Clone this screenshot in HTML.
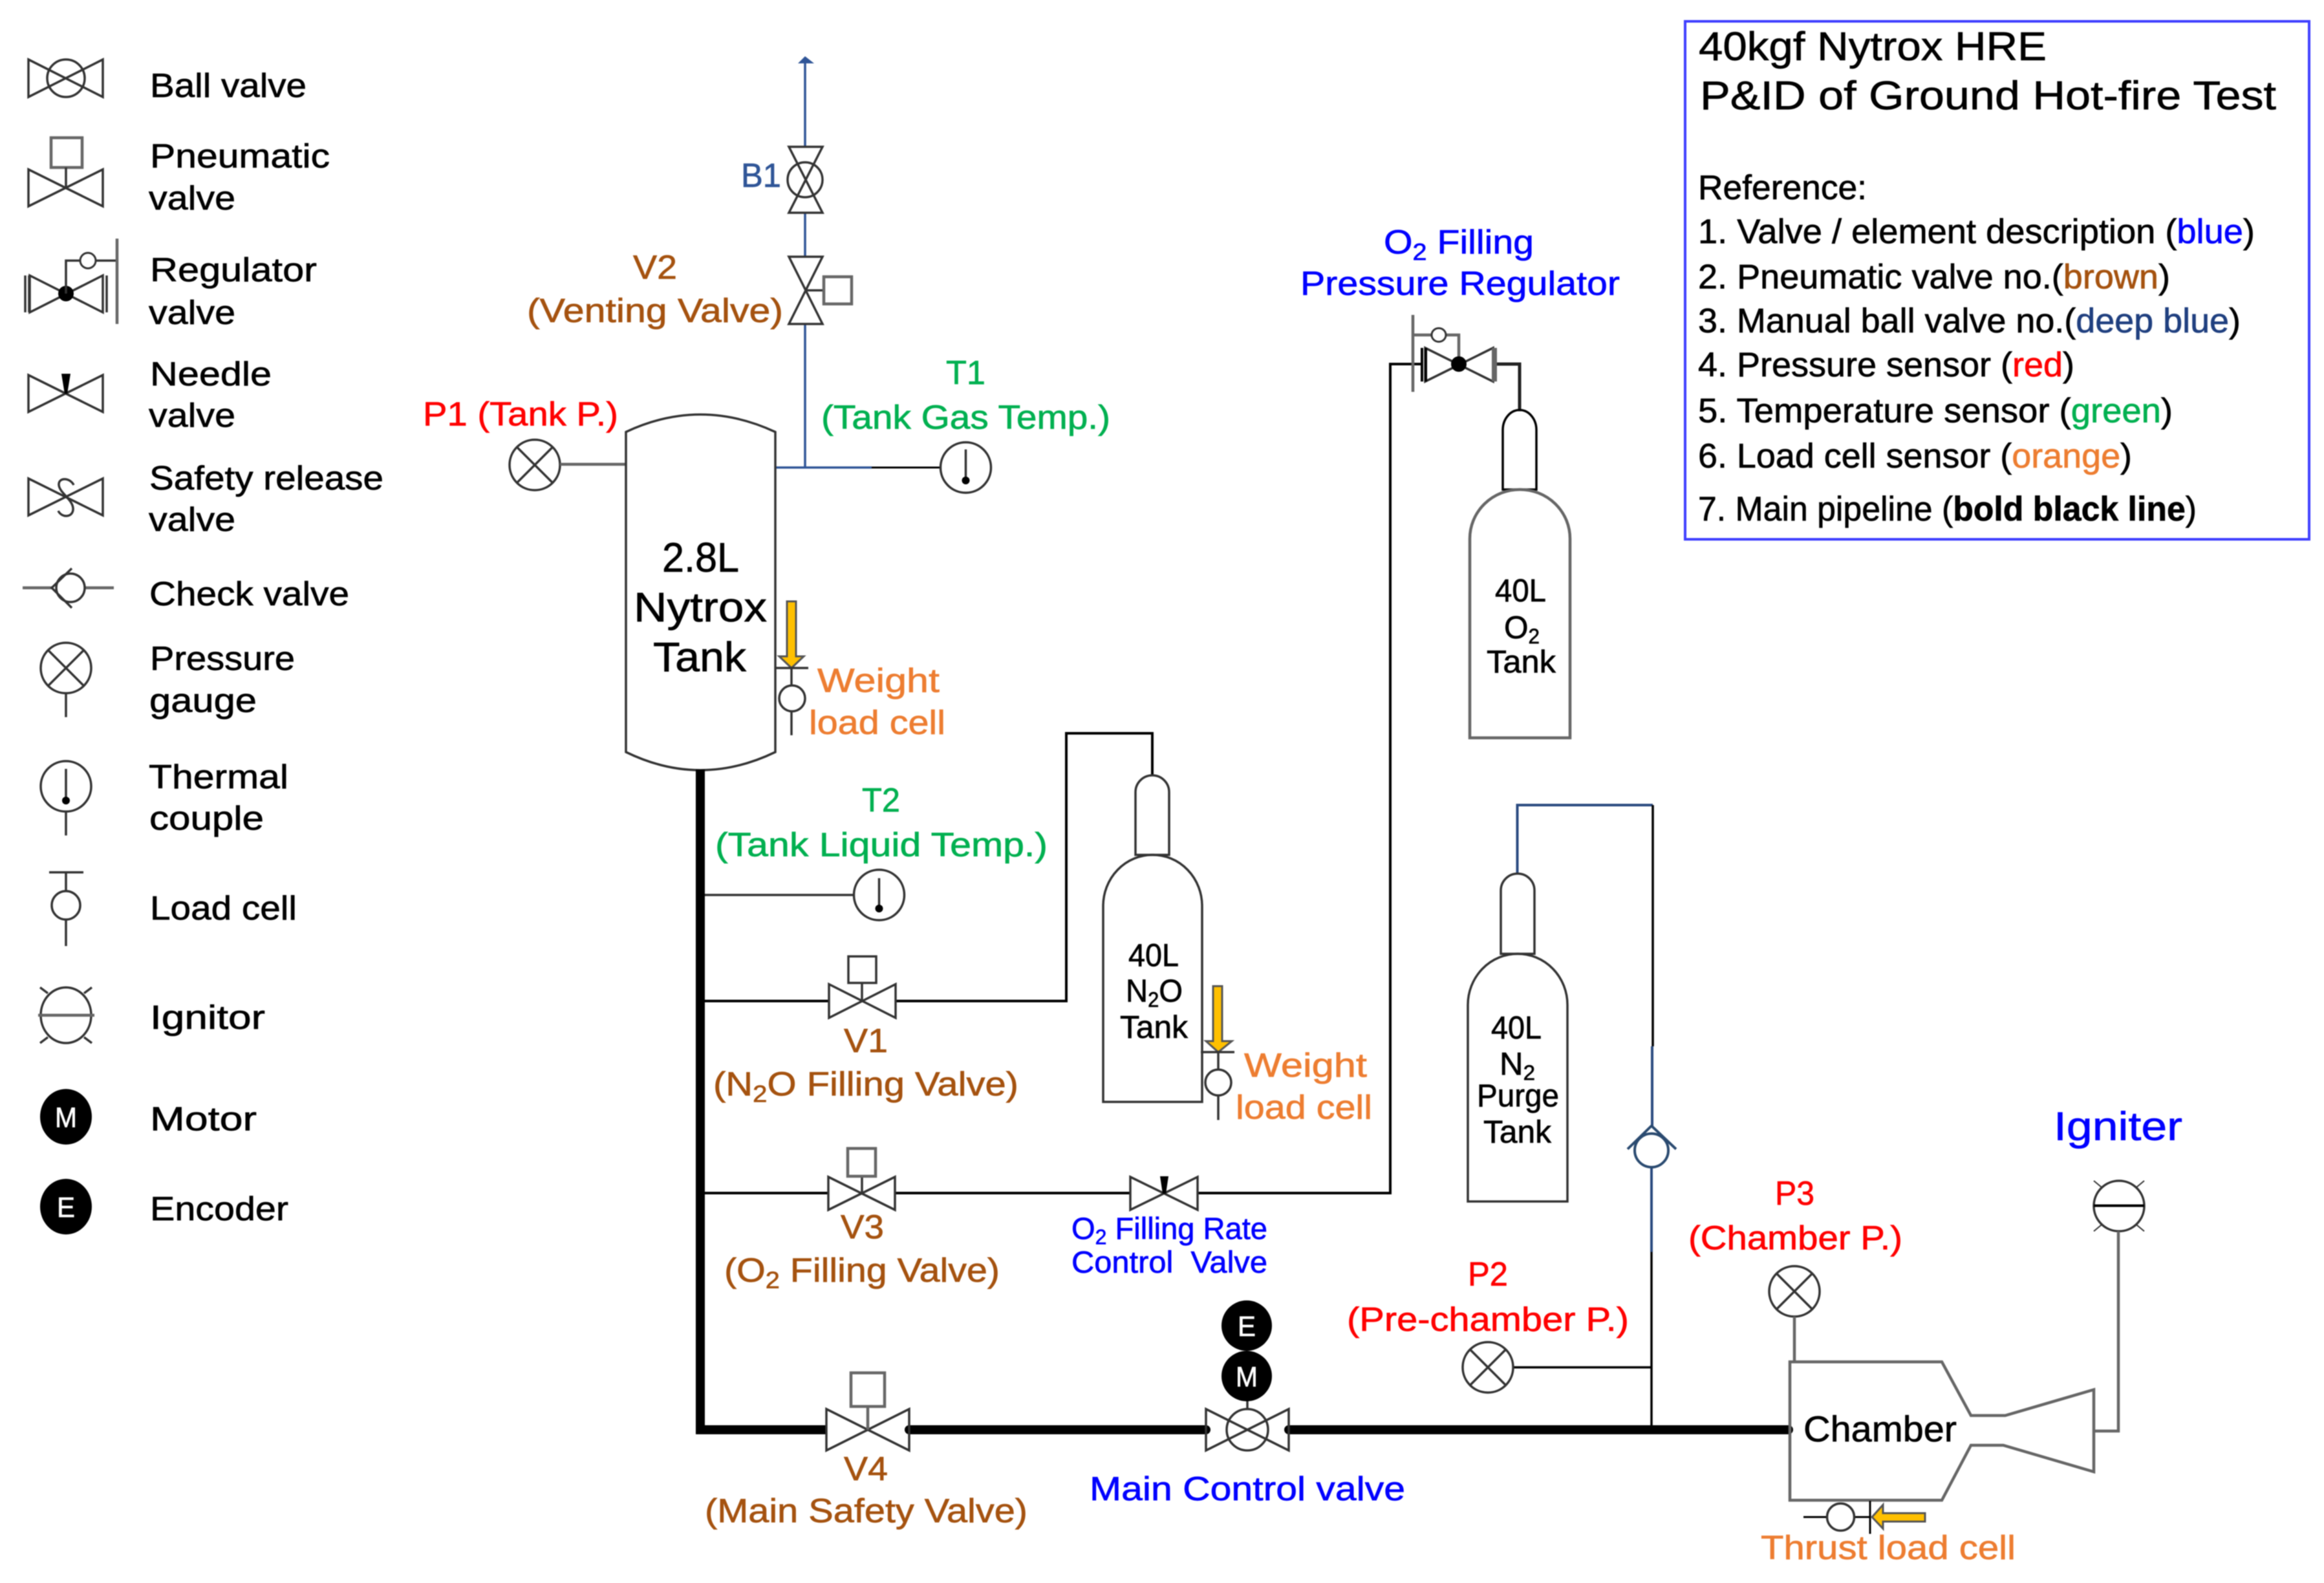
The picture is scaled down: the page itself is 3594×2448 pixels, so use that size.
<!DOCTYPE html>
<html><head><meta charset="utf-8"><title>40kgf Nytrox HRE P&amp;ID</title>
<style>
html,body{margin:0;padding:0;background:#fff}
svg{display:block;filter:blur(0.8px)}
text{font-family:"Liberation Sans",sans-serif;font-size:52px;fill:#000;stroke:#000;stroke-width:.7px;white-space:pre}
.s{fill:none;stroke:#333;stroke-width:3.5}
.g{fill:none;stroke:#666;stroke-width:4.5}
.k{fill:none;stroke:#000;stroke-width:4}
.b{fill:none;stroke:#2f5597;stroke-width:3.5}
.d{fill:none;stroke:#2a4a80;stroke-width:4}
.br{fill:#a5520f;stroke:#a5520f}.bl{fill:#00f;stroke:#00f}.gr{fill:#00b050;stroke:#00b050}.rd{fill:#f00;stroke:#f00}.or{fill:#ed7d31;stroke:#ed7d31}.db{fill:#2f5597;stroke:#2f5597}
text.br,text.bl,text.gr,text.rd,text.or,text.db{transform:translateY(-2px)}
.w{fill:#fff;stroke:#fff;font-size:44px}
.y{fill:#ffc000;stroke:#555;stroke-width:3}
</style></head><body>
<svg xmlns="http://www.w3.org/2000/svg" width="3594" height="2448" viewBox="0 0 3594 2448">
<rect width="3594" height="2448" fill="#fff"/>

<!-- Legend symbols -->
<path class="s" d="M44 92L159 150V92L44 150Z"/><circle class="s" cx="102" cy="121" r="29"/>
<path class="s" d="M44 262L159 319V262L44 319Z"/><rect class="g" x="79" y="213" width="48" height="46"/><path class="s" d="M102 259V290"/>
<path class="s" d="M46 426L159 483V426L46 483Z"/><path class="s" d="M39 426V483M45 426V483M165 426V483"/>
<circle cx="102" cy="454" r="12" fill="#000"/><path class="s" d="M102 454V403H181"/><ellipse cx="136" cy="403" rx="12" ry="12" fill="#fff" stroke="#333" stroke-width="3"/><path class="g" d="M181 369V501"/>
<path class="s" d="M44 580L159 637V580L44 637Z"/><path d="M95 578H109L104 609H100Z" fill="#000"/>
<path class="s" d="M44 740L159 797V740L44 797Z"/><path class="s" d="M114 750C108 738 90 738 91 750C92 762 112 772 113 786C114 800 96 802 90 790"/>
<path class="g" d="M35 909H81M131 909H176"/><circle class="s" cx="109" cy="909" r="22"/><path class="s" d="M111 879L80 909L111 940"/>
<circle class="s" cx="102" cy="1033" r="39"/><path class="s" d="M75 1006L129 1060M129 1006L75 1060M102 1072V1109"/>
<circle class="s" cx="102" cy="1216" r="39"/><path class="s" d="M102 1189V1238M102 1255V1292"/><circle cx="102" cy="1238" r="6" fill="#000"/>
<path class="s" d="M76 1349H129M102 1349V1378M102 1422V1463"/><circle class="s" cx="102" cy="1400" r="22"/>
<ellipse class="s" cx="102" cy="1570" rx="39" ry="43"/><path class="g" d="M59 1570H146"/><path class="s" stroke-width="2" d="M62 1527L74 1536M142 1527L130 1536M62 1613L74 1604M142 1613L130 1604"/>
<ellipse cx="102" cy="1727" rx="40" ry="43" fill="#000"/><ellipse cx="102" cy="1866" rx="40" ry="43" fill="#000"/>
<text x="85" y="1743" class="w" textLength="34" lengthAdjust="spacingAndGlyphs">M</text>
<text x="88" y="1882" class="w" textLength="28" lengthAdjust="spacingAndGlyphs">E</text>

<!-- Legend labels -->
<g transform="translate(-2,0)">
<text x="234" y="150" textLength="242" lengthAdjust="spacingAndGlyphs">Ball valve</text>
<text x="234" y="259" textLength="278" lengthAdjust="spacingAndGlyphs">Pneumatic</text>
<text x="232" y="324" textLength="134" lengthAdjust="spacingAndGlyphs">valve</text>
<text x="234" y="435" textLength="258" lengthAdjust="spacingAndGlyphs">Regulator</text>
<text x="232" y="501" textLength="134" lengthAdjust="spacingAndGlyphs">valve</text>
<text x="234" y="596" textLength="188" lengthAdjust="spacingAndGlyphs">Needle</text>
<text x="232" y="660" textLength="134" lengthAdjust="spacingAndGlyphs">valve</text>
<text x="233" y="757" textLength="362" lengthAdjust="spacingAndGlyphs">Safety release</text>
<text x="232" y="821" textLength="134" lengthAdjust="spacingAndGlyphs">valve</text>
<text x="233" y="936" textLength="309" lengthAdjust="spacingAndGlyphs">Check valve</text>
<text x="234" y="1036" textLength="224" lengthAdjust="spacingAndGlyphs">Pressure</text>
<text x="233" y="1101" textLength="166" lengthAdjust="spacingAndGlyphs">gauge</text>
<text x="232" y="1219" textLength="216" lengthAdjust="spacingAndGlyphs">Thermal</text>
<text x="233" y="1283" textLength="177" lengthAdjust="spacingAndGlyphs">couple</text>
<text x="234" y="1422" textLength="227" lengthAdjust="spacingAndGlyphs">Load cell</text>
<text x="234" y="1591" textLength="178" lengthAdjust="spacingAndGlyphs">Ignitor</text>
<text x="234" y="1748" textLength="165" lengthAdjust="spacingAndGlyphs">Motor</text>
<text x="234" y="1887" textLength="214" lengthAdjust="spacingAndGlyphs">Encoder</text>
</g>

<!-- Vent line -->
<path class="b" d="M1245 98V227M1245 329V397M1245 501V723M1200 723H1348"/>
<path d="M1245 87L1259 98H1234Z" fill="#2f5597"/>
<path class="k" style="stroke-width:3" d="M1348 723H1454"/>
<path class="s" d="M1220 227H1272L1220 329H1272Z"/><circle class="s" cx="1245" cy="278" r="27"/>
<path class="s" d="M1220 397H1272L1220 501H1272Z"/><path class="s" d="M1245 449H1273"/><rect class="g" x="1274" y="428" width="43" height="42"/>
<circle class="s" cx="1493.5" cy="723" r="39"/><path class="s" d="M1493.5 695V743"/><circle cx="1493.5" cy="743" r="6" fill="#000"/>
<circle class="s" cx="827" cy="719" r="39"/><path class="s" d="M800 692L854 746M854 692L800 746"/><path class="g" d="M866 718H968"/>

<!-- Main tank -->
<path class="s" d="M968 668Q1083 614 1199 668V1163Q1083 1219 968 1163Z" stroke="#444"/>
<path d="M1217 930H1231V1015H1243L1224 1033L1205 1015H1217Z" class="y"/>
<path class="s" d="M1198 1033H1250M1224 1033V1059M1224 1101V1137"/><circle class="s" cx="1225" cy="1080" r="20"/>

<!-- Main pipe -->
<path d="M1083 1190V2211H1278" fill="none" stroke="#000" stroke-width="14"/>
<path d="M1406 2211H1865M1993 2211H2766" fill="none" stroke="#000" stroke-width="14" stroke-linecap="round"/>

<!-- T2 -->
<path class="s" d="M1090 1384H1320"/><circle class="s" cx="1359.5" cy="1384" r="39"/><path class="s" d="M1359.5 1358V1405"/><circle cx="1359.5" cy="1405" r="6" fill="#000"/>

<!-- V1 line and N2O bottle -->
<path class="k" d="M1090 1548H1282M1385 1548H1649V1134H1782V1199"/>
<path class="s" d="M1282 1522L1385 1574V1522L1282 1574Z"/><path class="s" d="M1333 1520V1548"/><rect class="s" x="1312" y="1479" width="43" height="41"/>
<path class="s" d="M1756 1322V1225A26 26 0 0 1 1808 1225V1322Z"/>
<path class="s" d="M1706 1704V1401A76.500 79 0 0 1 1859 1401V1704Z"/>
<path d="M1876 1525H1890V1610H1905L1884 1627L1865 1610H1876Z" class="y"/>
<path class="s" d="M1857 1627H1909M1884 1627V1654M1884 1693V1732"/><circle class="s" cx="1884" cy="1674" r="20"/>

<!-- V3 line -->
<path class="k" d="M1090 1845H1281M1384 1845H1748M1852 1845H2150V563H2199"/>
<path class="s" d="M1281 1820L1384 1871V1820L1281 1871Z"/><path class="s" d="M1333 1819V1845"/><rect class="g" x="1311" y="1776" width="43" height="43"/>
<path class="s" d="M1748 1820L1852 1871V1820L1748 1871Z"/><path d="M1794 1819H1807L1803 1846H1798Z" fill="#000"/>

<!-- Regulator and O2 bottle -->
<path class="g" d="M2185 487V606M2185 518H2256V563"/>
<ellipse cx="2225" cy="518" rx="11" ry="10.500" fill="#fff" stroke="#333" stroke-width="3"/>
<path class="s" d="M2204 538L2309 590V538L2204 590Z"/><circle cx="2256" cy="563" r="12" fill="#000"/>
<path class="k" d="M2199 538V590M2205 538V590"/><path d="M2311 538V590" stroke="#666" stroke-width="8" fill="none"/>
<path d="M2315 563H2350V636" fill="none" stroke="#222" stroke-width="5"/>
<path class="k" style="stroke-width:3.500" d="M2324 757V665A26 31 0 0 1 2376 665V757Z"/>
<path class="g" d="M2273 1141V833A77.500 76 0 0 1 2428 833V1141Z"/>

<!-- N2 bottle + purge line -->
<path class="d" d="M2346.500 1351V1245H2556"/><path class="k" style="stroke-width:3.500" d="M2556 1245V1618"/>
<path class="d" d="M2555 1618V1741M2554 1805V1936"/><path class="k" style="stroke-width:3.500" d="M2554 1936V2207M2340 2114.500H2554"/>
<circle cx="2554" cy="1779" r="26" fill="#fff" stroke="#2a4a70" stroke-width="4"/><path fill="none" stroke="#2a4a70" stroke-width="4" d="M2517 1777L2554 1741L2592 1777"/>
<path class="s" d="M2321 1475V1377A26 26 0 0 1 2373 1377V1475Z"/>
<path class="s" d="M2270 1858V1554A77 79 0 0 1 2424 1554V1858Z"/>

<!-- Main valves -->
<path class="s" d="M1278 2179L1406 2243V2179L1278 2243Z"/><path class="g" d="M1342 2175V2211"/><rect class="g" x="1316" y="2123" width="52" height="52"/>
<path class="s" d="M1865 2179L1993 2243V2179L1865 2243Z"/><circle class="s" cx="1929" cy="2211" r="32"/><path class="s" d="M1929 2166V2179"/>
<circle cx="1928" cy="2050" r="39" fill="#000"/><circle cx="1928" cy="2128" r="39" fill="#000"/>
<text x="1914" y="2066" class="w" textLength="28" lengthAdjust="spacingAndGlyphs">E</text>
<text x="1911" y="2144" class="w" textLength="34" lengthAdjust="spacingAndGlyphs">M</text>

<!-- P2, P3 -->
<circle class="s" cx="2301" cy="2114.500" r="39"/><path class="s" d="M2274 2087.500L2328 2141.500M2328 2087.500L2274 2141.500"/>
<circle class="s" cx="2775" cy="1997" r="39"/><path class="s" d="M2748 1970L2802 2024M2802 1970L2748 2024"/><path class="g" d="M2775 2036V2106"/>

<!-- Chamber -->
<path class="g" d="M2768 2106H3003L3048 2189H3101L3238 2149V2276L3098 2235H3048L3003 2320H2768Z"/>
<ellipse cx="3277" cy="1865" rx="39" ry="39" fill="none" stroke="#333" stroke-width="3.500"/><path class="k" d="M3238 1864.500H3316"/><path class="s" style="stroke-width:2" d="M3238 1826L3250 1836M3316 1826L3304 1836M3238 1904L3250 1894M3316 1904L3304 1894"/>
<path class="g" d="M3276 1904V2213H3238"/>
<path class="k" style="stroke-width:3" d="M2789 2346H2825M2868 2346H2892M2892 2321V2372"/><circle class="s" cx="2846.500" cy="2346" r="21"/>
<path class="y" d="M2895 2346L2912 2327V2340H2977V2353H2912V2364Z"/>

<!-- Legend box -->
<rect x="2606" y="33" width="965" height="801" fill="none" stroke="#3f3fff" stroke-width="4"/>
<text x="2627" y="93" style="font-size:62px" textLength="538" lengthAdjust="spacingAndGlyphs">40kgf Nytrox HRE</text>
<text x="2629" y="169" style="font-size:62px" textLength="891" lengthAdjust="spacingAndGlyphs">P&amp;ID of Ground Hot-fire Test</text>
<text x="2626" y="308" style="font-size:53px" textLength="261" lengthAdjust="spacingAndGlyphs">Reference:</text>
<text x="2626" y="376" style="font-size:53px" textLength="861" lengthAdjust="spacingAndGlyphs">1. Valve / element description (<tspan class="bl">blue</tspan>)</text>
<text x="2626" y="446" style="font-size:53px" textLength="730" lengthAdjust="spacingAndGlyphs">2. Pneumatic valve no.(<tspan class="br">brown</tspan>)</text>
<text x="2626" y="514" style="font-size:53px" textLength="839" lengthAdjust="spacingAndGlyphs">3. Manual ball valve no.(<tspan style="fill:#1f3f7f;stroke:#1f3f7f">deep blue</tspan>)</text>
<text x="2626" y="582" style="font-size:53px" textLength="582" lengthAdjust="spacingAndGlyphs">4. Pressure sensor (<tspan class="rd">red</tspan>)</text>
<text x="2626" y="653" style="font-size:53px" textLength="734" lengthAdjust="spacingAndGlyphs">5. Temperature sensor (<tspan class="gr">green</tspan>)</text>
<text x="2626" y="723" style="font-size:53px" textLength="671" lengthAdjust="spacingAndGlyphs">6. Load cell sensor (<tspan class="or">orange</tspan>)</text>
<text x="2626" y="805" style="font-size:53px" textLength="771" lengthAdjust="spacingAndGlyphs">7. Main pipeline (<tspan font-weight="bold">bold black line</tspan>)</text>

<!-- Diagram labels -->
<text class="db" x="1146" y="291" textLength="62" lengthAdjust="spacingAndGlyphs">B1</text>
<text class="br" x="979" y="433" textLength="68" lengthAdjust="spacingAndGlyphs">V2</text>
<text class="br" x="815" y="500" textLength="396" lengthAdjust="spacingAndGlyphs">(Venting Valve)</text>
<text class="gr" x="1463" y="596" textLength="61" lengthAdjust="spacingAndGlyphs">T1</text>
<text class="gr" x="1270" y="665" textLength="447" lengthAdjust="spacingAndGlyphs">(Tank Gas Temp.)</text>
<text class="rd" x="654" y="660" textLength="302" lengthAdjust="spacingAndGlyphs">P1 (Tank P.)</text>
<text x="1024" y="884" style="font-size:64px" textLength="119" lengthAdjust="spacingAndGlyphs">2.8L</text>
<text x="980" y="961" style="font-size:64px" textLength="206" lengthAdjust="spacingAndGlyphs">Nytrox</text>
<text x="1010" y="1038" style="font-size:64px" textLength="144" lengthAdjust="spacingAndGlyphs">Tank</text>
<text class="or" x="1264" y="1072" textLength="189" lengthAdjust="spacingAndGlyphs">Weight</text>
<text class="or" x="1251" y="1137" textLength="211" lengthAdjust="spacingAndGlyphs">load cell</text>
<text class="gr" x="1333" y="1257" textLength="59" lengthAdjust="spacingAndGlyphs">T2</text>
<text class="gr" x="1106" y="1326" textLength="514" lengthAdjust="spacingAndGlyphs">(Tank Liquid Temp.)</text>
<text class="br" x="1305" y="1629" textLength="68" lengthAdjust="spacingAndGlyphs">V1</text>
<text class="br" x="1103" y="1696" textLength="472" lengthAdjust="spacingAndGlyphs">(N<tspan dy="10" font-size="36">2</tspan><tspan dy="-10">O Filling Valve)</tspan></text>
<text class="br" x="1300" y="1917" textLength="67" lengthAdjust="spacingAndGlyphs">V3</text>
<text class="br" x="1120" y="1984" textLength="426" lengthAdjust="spacingAndGlyphs">(O<tspan dy="10" font-size="36">2</tspan><tspan dy="-10"> Filling Valve)</tspan></text>
<text class="bl" x="1657" y="1918" style="font-size:47px" textLength="303" lengthAdjust="spacingAndGlyphs">O<tspan dy="8" font-size="32">2</tspan><tspan dy="-8"> Filling Rate</tspan></text>
<text class="bl" x="1657" y="1970" style="font-size:47px" textLength="303" lengthAdjust="spacingAndGlyphs">Control  Valve</text>
<text class="br" x="1305" y="2291" textLength="68" lengthAdjust="spacingAndGlyphs">V4</text>
<text class="br" x="1090" y="2356" textLength="499" lengthAdjust="spacingAndGlyphs">(Main Safety Valve)</text>
<text class="bl" x="1685" y="2322" textLength="488" lengthAdjust="spacingAndGlyphs">Main Control valve</text>
<text class="or" x="1924" y="1667" textLength="190" lengthAdjust="spacingAndGlyphs">Weight</text>
<text class="or" x="1911" y="1732" textLength="211" lengthAdjust="spacingAndGlyphs">load cell</text>
<text class="bl" x="2140" y="394" textLength="232" lengthAdjust="spacingAndGlyphs">O<tspan dy="10" font-size="36">2</tspan><tspan dy="-10"> Filling</tspan></text>
<text class="bl" x="2011" y="458" textLength="494" lengthAdjust="spacingAndGlyphs">Pressure Regulator</text>
<text x="2312" y="930" style="font-size:49px" textLength="79" lengthAdjust="spacingAndGlyphs">40L</text>
<text x="2326" y="987" style="font-size:49px" textLength="55" lengthAdjust="spacingAndGlyphs">O<tspan dy="8" font-size="32">2</tspan></text>
<text x="2299" y="1040" style="font-size:49px" textLength="107" lengthAdjust="spacingAndGlyphs">Tank</text>
<text x="1745" y="1494" style="font-size:49px" textLength="78" lengthAdjust="spacingAndGlyphs">40L</text>
<text x="1741" y="1549" style="font-size:49px" textLength="88" lengthAdjust="spacingAndGlyphs">N<tspan dy="8" font-size="32">2</tspan><tspan dy="-8">O</tspan></text>
<text x="1732" y="1605" style="font-size:49px" textLength="105" lengthAdjust="spacingAndGlyphs">Tank</text>
<text x="2306" y="1606" style="font-size:49px" textLength="78" lengthAdjust="spacingAndGlyphs">40L</text>
<text x="2319" y="1662" style="font-size:49px" textLength="55" lengthAdjust="spacingAndGlyphs">N<tspan dy="8" font-size="32">2</tspan></text>
<text x="2284" y="1711" style="font-size:49px" textLength="127" lengthAdjust="spacingAndGlyphs">Purge</text>
<text x="2294" y="1767" style="font-size:49px" textLength="105" lengthAdjust="spacingAndGlyphs">Tank</text>
<text class="rd" x="2270" y="1990" textLength="62" lengthAdjust="spacingAndGlyphs">P2</text>
<text class="rd" x="2083" y="2060" textLength="436" lengthAdjust="spacingAndGlyphs">(Pre-chamber P.)</text>
<text class="rd" x="2745" y="1865" textLength="61" lengthAdjust="spacingAndGlyphs">P3</text>
<text class="rd" x="2611" y="1934" textLength="331" lengthAdjust="spacingAndGlyphs">(Chamber P.)</text>
<text class="bl" x="3176" y="1765" style="font-size:62px" textLength="199" lengthAdjust="spacingAndGlyphs">Igniter</text>
<text x="2789" y="2229" style="font-size:56px" textLength="237" lengthAdjust="spacingAndGlyphs">Chamber</text>
<text class="or" x="2723" y="2413" textLength="394" lengthAdjust="spacingAndGlyphs">Thrust load cell</text>
</svg>
</body></html>
